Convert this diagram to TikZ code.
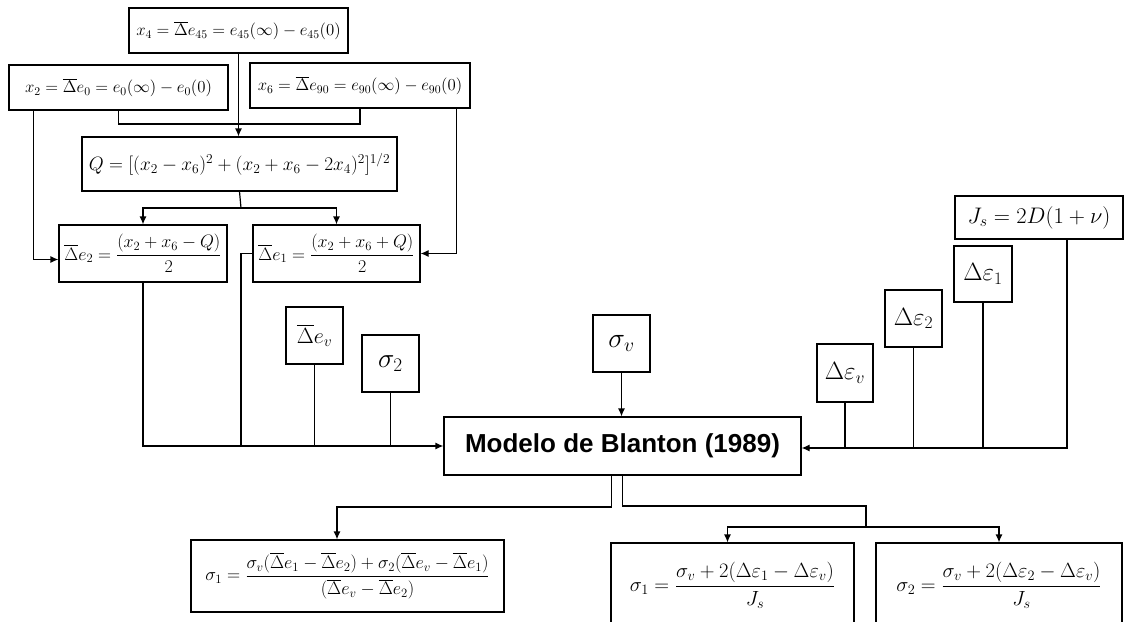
\RequirePackage{fix-cm}
\documentclass[tikz,border=0pt]{standalone}
\usepackage{amsmath}
\usepackage{fontspec}
\setmainfont{Liberation Serif}
\newfontfamily\arialfont{Liberation Sans}
\usetikzlibrary{arrows.meta}
\begin{document}
\begin{tikzpicture}[x=1pt,y=-1pt,
  box/.style={draw,line width=1.2pt,inner sep=0pt,align=center},
  ln/.style={line width=1.2pt},
  arr/.style={ln,-{Latex[length=8pt,width=7pt]}},
  fs/.style={font=\fontsize{#1}{#1}\selectfont}]
\useasboundingbox (0,0) rectangle (1131,621);
\clip (0,0) rectangle (1131,621);
\newcommand{\dbar}{\overline{\Delta}}
% nodes
\node[box,minimum width=219pt,minimum height=45pt,fs=16.8] (x4) at (238.5,30.5) {$x_4=\dbar e_{45}=e_{45}(\infty)-e_{45}(0)$};
\node[box,minimum width=219pt,minimum height=45pt,fs=16.8] (x2) at (118.5,87.5) {$x_2=\dbar e_{0}=e_{0}(\infty)-e_{0}(0)$};
\node[box,minimum width=220pt,minimum height=45pt,fs=16.8] (x6) at (360,85.5) {$x_6=\dbar e_{90}=e_{90}(\infty)-e_{90}(0)$};
\node[box,minimum width=315pt,minimum height=54pt,fs=19.3] (Q) at (239.5,164) {$Q=[(x_2-x_6)^2+(x_2+x_6-2x_4)^2]^{1/2}$};
\node[box,minimum width=168pt,minimum height=57pt,fs=18] (de2) at (143,253.5) {$\dbar e_2=\dfrac{(x_2+x_6-Q)}{2}$};
\node[box,minimum width=167pt,minimum height=57pt,fs=18] (de1) at (336.5,253.5) {$\dbar e_1=\dfrac{(x_2+x_6+Q)}{2}$};
\node[box,minimum width=57pt,minimum height=57pt,fs=22] (dev) at (314.5,335.5) {$\dbar e_v$};
\node[box,minimum width=57pt,minimum height=57pt,fs=27.5] (s2) at (390.5,363.5) {$\sigma_2$};
\node[box,minimum width=57pt,minimum height=57pt,fs=28] (sv) at (621.5,343.5) {$\sigma_v$};
\node[box,minimum width=357pt,minimum height=58pt,font=\arialfont\bfseries\fontsize{26}{26}\selectfont] (M) at (622.5,446) {Modelo de Blanton (1989)};
\node[box,minimum width=56pt,minimum height=58pt,fs=25] (dav) at (845,373) {$\Delta\varepsilon_v$};
\node[box,minimum width=57pt,minimum height=57pt,fs=25] (da2) at (913.5,318.5) {$\Delta\varepsilon_2$};
\node[box,minimum width=58pt,minimum height=56pt,fs=25] (da1) at (983,274) {$\Delta\varepsilon_1$};
\node[box,minimum width=168pt,minimum height=43pt,fs=22.5] (Js) at (1039,217.5) {$J_s=2D(1+\nu)$};
\node[box,minimum width=313pt,minimum height=72pt,fs=18.2] (sa) at (347.5,576) {$\sigma_1=\dfrac{\sigma_v(\dbar e_1-\dbar e_2)+\sigma_2(\dbar e_v-\dbar e_1)}{(\dbar e_v-\dbar e_2)}$};
\node[box,minimum width=243pt,minimum height=84pt,fs=20.5] (sb) at (732.5,585) {$\sigma_1=\dfrac{\sigma_v+2(\Delta\varepsilon_1-\Delta\varepsilon_v)}{J_s}$};
\node[box,minimum width=246pt,minimum height=84pt,fs=20.5] (sc) at (999,585) {$\sigma_2=\dfrac{\sigma_v+2(\Delta\varepsilon_2-\Delta\varepsilon_v)}{J_s}$};
% coordinates
\coordinate (jq) at (241,124);
\coordinate (qs) at (241,208);
\coordinate (b1) at (241,446);
\coordinate (bl) at (337,507);
\coordinate (br) at (866,506);
\coordinate (bm) at (866,527);
% connectors
\draw[arr] (x4.south) -- (x4.south |- Q.north);
\draw[ln] (x2.south) |- (jq) -| (x6.south);
\draw[arr] ([xshift=25pt]x2.south west) |- ([yshift=-6pt]de2.west);
\draw[arr] ([xshift=-14pt]x6.south east) |- (de1.east);
\draw[ln] (Q.south) -- (qs);
\draw[arr] (qs) -| (de2.north);
\draw[arr] (qs) -| (de1.north);
\draw[arr] (de2.south) |- (M.west);
\draw[ln] (de1.west) -| (b1);
\draw[ln] (dev.south) -- (dev.south |- M.west);
\draw[ln] (s2.south) -- (s2.south |- M.west);
\draw[arr] (sv.south) -- (sv.south |- M.north);
\draw[arr] ([xshift=28pt]Js.south) |- ([yshift=-2pt]M.east);
\draw[ln] (da1.south) -- ++(0,146);
\draw[ln] (da2.south) -- ++(0,100.5);
\draw[ln] (dav.south) -- ++(0,46);
\draw[arr] ([xshift=-11pt]M.south) |- (bl) -- (bl |- sa.north);
\draw[ln] (M.south) |- (br) -- (bm);
\draw[arr] (bm) -| ([xshift=-5pt]sb.north);
\draw[arr] (bm) -| (sc.north);
\end{tikzpicture}
\end{document}
